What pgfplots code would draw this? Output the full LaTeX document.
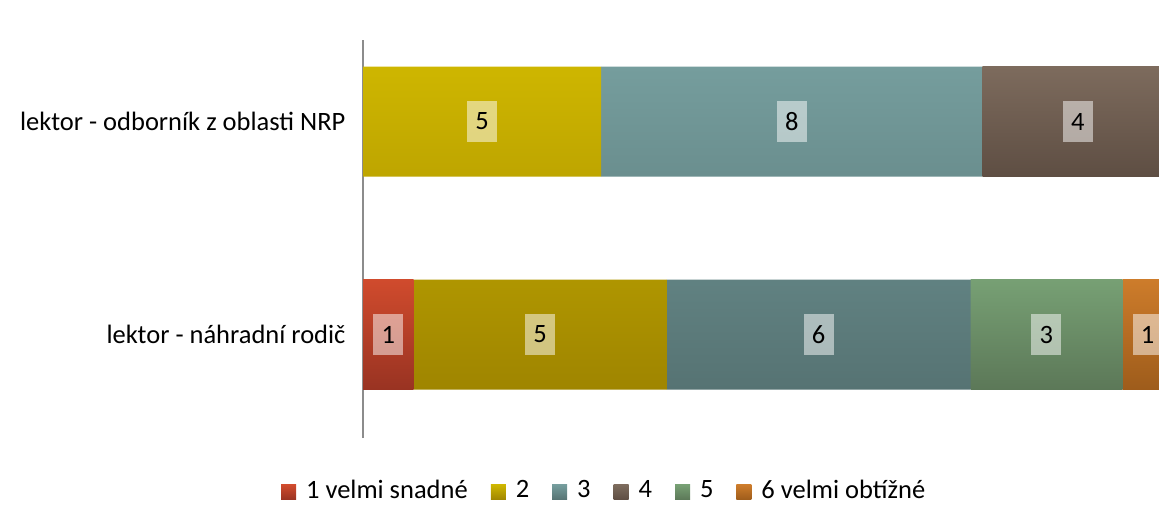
\documentclass[border=0pt]{standalone}
\usepackage{fontspec}
\setmainfont{Carlito}
\usepackage{pgfplots}
\pgfplotsset{compat=1.18}
\definecolor{c1t}{HTML}{D04B2D}\definecolor{c1b}{HTML}{993322}
\definecolor{c2t}{HTML}{CEB600}\definecolor{c2b}{HTML}{9F8500}
\definecolor{c3t}{HTML}{759D9D}\definecolor{c3b}{HTML}{567373}
\definecolor{c4t}{HTML}{7D6B5D}\definecolor{c4b}{HTML}{5E4E43}
\definecolor{c5t}{HTML}{77A074}\definecolor{c5b}{HTML}{5C7858}
\definecolor{c6t}{HTML}{CD7C2B}\definecolor{c6b}{HTML}{9E5C1B}
\pgfplotsset{
  commongeom/.style={
    at={(363pt,66pt)}, anchor=south west,
    scale only axis, width=796pt, height=398pt,
    xmin=0, xmax=98.27, ymin=-0.486, ymax=1.383,
  }
}
\begin{document}
\begin{tikzpicture}
\begin{axis}[
  commongeom,
  xbar stacked, bar width=110pt,
  ytick={0,1},
  yticklabels={lektor - náhradní rodič, lektor - odborník z oblasti NRP},
  axis x line=none, axis y line*=left,
  y axis line style={color=black!45, line width=1.3pt, -},
  major tick length=0pt,
  yticklabel style={font=\fontsize{26.5}{30}\selectfont, text=black, xshift=-14pt},
  legend style={at={(0.303,-0.130)}, anchor=center, draw=none, fill=none,
    legend columns=-1, font=\fontsize{26.5}{30}\selectfont, text=black,
    /tikz/every even column/.append style={column sep=21pt},
    /tikz/every odd column/.append style={column sep=8pt}},
  legend image code/.code={\path[#1, draw=none] (0pt,-10pt) rectangle (15pt,5pt);},
]
\addplot[draw=none, top color=c1t, bottom color=c1b] coordinates {(6.25,0) (0,1)};
\addplot[draw=none, top color=c2t, bottom color=c2b] coordinates {(31.25,0) (29.412,1)};
\addplot[draw=none, top color=c3t, bottom color=c3b] coordinates {(37.5,0) (47.059,1)};
\addplot[draw=none, top color=c4t, bottom color=c4b] coordinates {(0,0) (23.529,1)};
\addplot[draw=none, top color=c5t, bottom color=c5b] coordinates {(18.75,0) (0,1)};
\addplot[draw=none, top color=c6t, bottom color=c6b] coordinates {(6.25,0) (0,1)};
\legend{1 velmi snadné, 2, 3, 4, 5, 6 velmi obtížné}
\end{axis}
\begin{axis}[
  commongeom,
  axis lines=none, clip=false,
  point meta=explicit symbolic,
  nodes near coords,
  every node near coord/.append style={
    fill=white, fill opacity=0.5, text opacity=1, text=black,
    minimum width=30pt, minimum height=41pt, inner sep=0pt, anchor=center,
    font=\fontsize{26.5}{30}\selectfont},
]
\addplot[only marks, mark=none] coordinates {
  (14.706,1) [5] (52.941,1) [8] (88.235,1) [4]
  (3.125,0) [1] (21.875,0) [5] (56.25,0) [6] (84.375,0) [3] (96.875,0) [1]
};
\end{axis}
\pgfresetboundingbox
\path[use as bounding box] (0,0) rectangle (1159pt,504pt);
\end{tikzpicture}
\end{document}
